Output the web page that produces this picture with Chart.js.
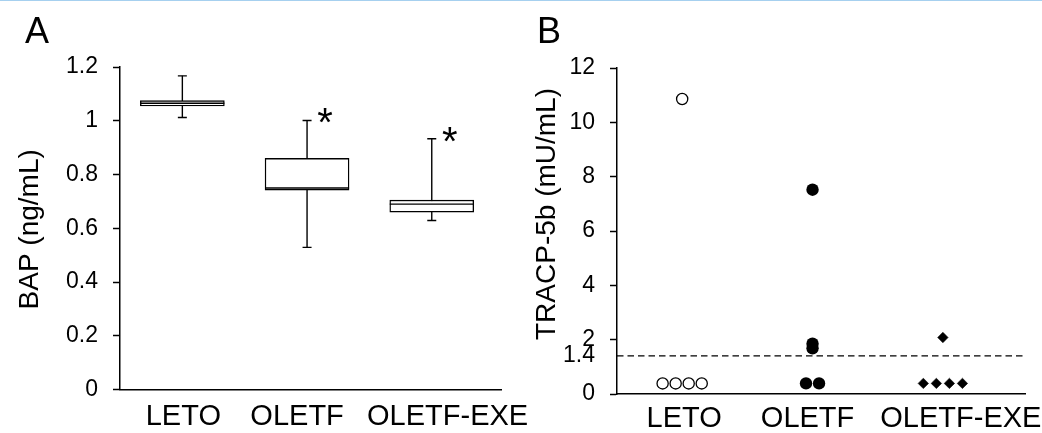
<!DOCTYPE html>
<html>
<head>
<meta charset="utf-8">
<script src="https://cdn.jsdelivr.net/npm/chart.js@4.4.1/dist/chart.umd.min.js"></script>
<style>
  html, body { margin: 0; padding: 0; background: #fff; }
  #wrap { position: relative; width: 1042px; height: 433px; overflow: hidden; }
  #topline { position: absolute; left: 0; top: 0; width: 1042px; height: 1px; background: #a6d0ef; z-index: 2; }
  #chartA { position: absolute; left: 0; top: 0; }
  #chartB { position: absolute; left: 520px; top: 0; }
</style>
</head>
<body>
<div id="wrap">
  <div id="topline"></div>
  <canvas id="chartA" width="545" height="433"></canvas>
  <canvas id="chartB" width="522" height="433"></canvas>
</div>
<script>
// ---------------- DATA ----------------
const categories = ['LETO', 'OLETF', 'OLETF-EXE'];

// Panel A: BAP (ng/mL) box plots
const bapMin    = [1.012, 0.529, 0.629];
const bapQ1     = [1.055, 0.742, 0.660];
const bapMedian = [1.065, 0.750, 0.690];
const bapQ3     = [1.075, 0.860, 0.705];
const bapMax    = [1.167, 1.001, 0.933];
const bapSignificant = [false, true, true];
const bapTicks  = [0, 0.2, 0.4, 0.6, 0.8, 1, 1.2];

// Panel B: TRACP-5b (mU/mL) individual values
const tracpLETO  = [10.86, 0.39, 0.39, 0.39, 0.39];
const tracpOLETF = [7.52, 1.85, 1.68, 0.39, 0.39];
const tracpEXE   = [2.08, 0.39, 0.39, 0.39, 0.39];
const tracpCutoff = 1.4;
const tracpTicks = [0, 1.4, 2, 4, 6, 8, 10, 12];

// ---------------- STYLE ----------------
const FONT = '"Liberation Sans", Arial, Helvetica, sans-serif';
const INK = '#000';
const LW = 1.4;
const BOX_WIDTH = 84;                        // px
const DUP_SPREAD = 0.1;                      // horizontal spread (category units) for identical values
const LABEL_NUDGE_A = [0.008, -0.08, 0.127]; // category-label placement tweaks (category units)
const LABEL_NUDGE_B = [0.015, -0.038, 0.138];

// spread identical values side by side around the category center
function spreadPoints(values, catIndex) {
  const counts = {}, seen = {};
  values.forEach(v => { counts[v] = (counts[v] || 0) + 1; });
  return values.map(v => {
    const n = counts[v];
    const k = seen[v] || 0; seen[v] = k + 1;
    return { x: catIndex + (k - (n - 1) / 2) * DUP_SPREAD, y: v };
  });
}

const panelText = {
  id: 'panelText',
  afterDraw(chart, args, o) {
    const ctx = chart.ctx;
    const ca = chart.chartArea;
    ctx.save();
    ctx.fillStyle = INK;
    ctx.font = '36px ' + FONT;
    ctx.textAlign = 'left';
    ctx.textBaseline = 'alphabetic';
    ctx.fillText(o.letter, o.letterX, o.letterY);
    ctx.translate(o.titleX, (ca.top + ca.bottom) / 2 + o.titleDy);
    ctx.rotate(-Math.PI / 2);
    ctx.textAlign = 'center';
    ctx.textBaseline = 'middle';
    ctx.font = '28px ' + FONT;
    ctx.fillText(o.title, 0, 0);
    ctx.restore();
  }
};

const asterisks = {
  id: 'asterisks',
  afterDatasetsDraw(chart) {
    const ctx = chart.ctx;
    const xs = chart.scales.x, ys = chart.scales.y;
    ctx.save();
    ctx.fillStyle = INK;
    ctx.font = '40px ' + FONT;
    ctx.textAlign = 'center';
    ctx.textBaseline = 'alphabetic';
    bapSignificant.forEach((sig, i) => {
      if (!sig) return;
      const px = xs.getPixelForValue(i) + 18;
      const py = ys.getPixelForValue(bapMax[i]) - 7;
      ctx.fillText('*', px, py + 23);
    });
    ctx.restore();
  }
};

function xAxis(max, pad, height, nudge) {
  return {
    type: 'linear', min: -0.5, max: max, offset: false,
    afterBuildTicks: s => { s.ticks = categories.map((c, i) => ({ value: i + nudge[i] })); },
    afterFit: s => { s.height = height; s.paddingLeft = 0; s.paddingRight = 0; },
    ticks: { callback: v => categories[Math.round(v)], color: INK, font: { family: FONT, size: 29 },
             padding: pad, autoSkip: false, maxRotation: 0 },
    grid: { display: false, drawTicks: false, offset: false },
    border: { display: true, color: INK, width: 1.5 }
  };
}

function yAxis(max, ticks, width, hideTickAt) {
  return {
    type: 'linear', min: 0, max: max,
    afterBuildTicks: s => { s.ticks = ticks.map(v => ({ value: v })); },
    afterFit: s => { s.width = width; },
    ticks: { callback: v => String(v), color: INK, font: { family: FONT, size: 23 }, padding: 15, autoSkip: false },
    grid: {
      drawOnChartArea: false, drawTicks: true, tickLength: 7, tickWidth: 1.5,
      tickColor: c => (c.tick && c.tick.value === hideTickAt) ? 'rgba(0,0,0,0)' : INK
    },
    border: { display: true, color: INK, width: 1.5 }
  };
}

// ---------------- PANEL A ----------------
const whiskerPts = [];
categories.forEach((c, i) => {
  whiskerPts.push({ x: i, y: bapMin[i] }, { x: i, y: bapMax[i] }, { x: i, y: null });
});
const capPts = categories.map((c, i) => ({ x: i, y: bapMax[i] }))
  .concat(categories.map((c, i) => ({ x: i, y: bapMin[i] })));

new Chart(document.getElementById('chartA'), {
  type: 'bar',
  data: {
    datasets: [
      { type: 'line', label: 'whiskers', data: whiskerPts, borderColor: INK, borderWidth: LW,
        pointRadius: 0, spanGaps: false, order: 3 },
      { type: 'bar', label: 'IQR', data: categories.map((c, i) => ({ x: i, y: [bapQ1[i], bapQ3[i]] })),
        backgroundColor: '#fff', borderColor: INK, borderWidth: LW, borderSkipped: false,
        grouped: false, barPercentage: 1, categoryPercentage: 1, maxBarThickness: BOX_WIDTH, order: 2 },
      { type: 'line', label: 'median', data: categories.map((c, i) => ({ x: i, y: bapMedian[i] })),
        showLine: false, pointStyle: 'line', pointRadius: BOX_WIDTH / 2, pointBorderWidth: LW,
        pointBorderColor: INK, order: 1 },
      { type: 'line', label: 'caps', data: capPts, showLine: false, pointStyle: 'line',
        pointRadius: 4.5, pointBorderWidth: LW, pointBorderColor: INK, order: 1 }
    ]
  },
  options: {
    responsive: false, animation: false, events: [],
    layout: { padding: { top: 67, right: 40, left: 0, bottom: 0 } },
    plugins: {
      legend: { display: false }, tooltip: { enabled: false },
      panelText: { letter: 'A', letterX: 25, letterY: 43, title: 'BAP (ng/mL)', titleX: 30, titleDy: 1 }
    },
    scales: { x: xAxis(2.56, 10, 41, LABEL_NUDGE_A), y: yAxis(1.2, bapTicks, 120, null) }
  },
  plugins: [panelText, asterisks]
});

// ---------------- PANEL B ----------------
new Chart(document.getElementById('chartB'), {
  type: 'scatter',
  data: {
    datasets: [
      { label: 'cutoff', data: [{ x: -0.5, y: tracpCutoff }, { x: 2.63, y: tracpCutoff }],
        showLine: true, borderColor: INK, borderWidth: 1.3, borderDash: [6.5, 4], pointRadius: 0, order: 4 },
      { label: 'LETO', data: spreadPoints(tracpLETO, 0), pointStyle: 'circle', pointRadius: 5.6,
        backgroundColor: '#fff', borderColor: INK, borderWidth: 1.3, order: 1 },
      { label: 'OLETF', data: spreadPoints(tracpOLETF, 1), pointStyle: 'circle', pointRadius: 6.2,
        backgroundColor: INK, borderColor: INK, borderWidth: 0, order: 1 },
      { label: 'OLETF-EXE', data: spreadPoints(tracpEXE, 2), pointStyle: 'rectRot', pointRadius: 5.2,
        backgroundColor: INK, borderColor: INK, borderWidth: 0.6, order: 1 }
    ]
  },
  options: {
    responsive: false, animation: false, events: [],
    layout: { padding: { top: 68, right: 17, left: 0, bottom: 0 } },
    plugins: {
      legend: { display: false }, tooltip: { enabled: false },
      panelText: { letter: 'B', letterX: 17, letterY: 43, title: 'TRACP-5b (mU/mL)', titleX: 27, titleDy: -17 }
    },
    scales: { x: xAxis(2.63, 8, 39, LABEL_NUDGE_B), y: yAxis(12, tracpTicks, 97, tracpCutoff) }
  },
  plugins: [panelText]
});
</script>
</body>
</html>
